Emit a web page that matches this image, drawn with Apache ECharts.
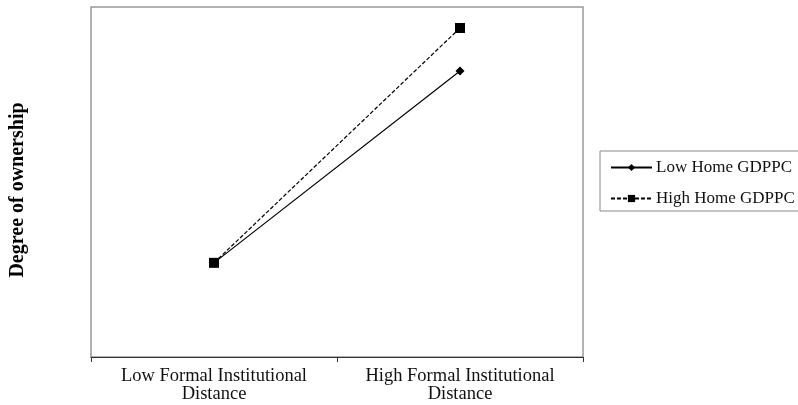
<!DOCTYPE html>
<html><head><meta charset="utf-8">
<script src="https://cdn.jsdelivr.net/npm/echarts@6/dist/echarts.min.js"></script>
<style>html,body{margin:0;padding:0;background:#fff}#c{width:798px;height:405px}</style>
</head><body><div id="c"></div>
<script>
const categories = ['Low Formal Institutional\nDistance', 'High Formal Institutional\nDistance'];
const lowHome = [2.69, 8.17];
const highHome = [2.69, 9.40];
const seriesNames = ['Low Home GDPPC', 'High Home GDPPC'];
const yName = 'Degree of ownership';

const chart = echarts.init(document.getElementById('c'));
const serif = '"Liberation Serif","Times New Roman",serif';
chart.setOption({
  animation: false,
  grid: {left: 91, top: 7, right: 215, bottom: 48, show: true, borderColor: '#999', borderWidth: 1.5,
         containLabel: false, outerBoundsMode: 'none'},
  xAxis: {
    type: 'category', data: categories, boundaryGap: true,
    axisLine: {lineStyle: {color: '#333', width: 1}},
    axisTick: {show: true, length: 5, interval: 0, lineStyle: {color: '#333'}},
    axisLabel: {fontFamily: serif, fontSize: 18.5, color: '#111', lineHeight: 18, margin: 10,
                interval: 0, hideOverlap: false}
  },
  yAxis: {
    type: 'value', min: 0, max: 10,
    name: yName, nameLocation: 'middle', nameGap: 63,
    nameTextStyle: {fontFamily: serif, fontSize: 20, fontWeight: 'bold', color: '#000', padding: [0, 16, 0, 0]},
    axisLine: {show: false}, axisTick: {show: false}, axisLabel: {show: false},
    splitLine: {show: false}
  },
  legend: {
    orient: 'vertical', left: 600, top: 151,
    data: seriesNames,
    itemWidth: 41, itemHeight: 9, itemGap: 14,
    padding: [8, 20, 4, 10],
    borderColor: '#888', borderWidth: 1,
    textStyle: {fontFamily: serif, fontSize: 17, color: '#111', padding: [0, 0, 0, -1]}
  },
  series: [
    {name: seriesNames[0], type: 'line', data: lowHome, symbol: 'diamond', symbolSize: 9,
     lineStyle: {color: '#000', width: 1.2, type: 'solid'}, itemStyle: {color: '#000'}},
    {name: seriesNames[1], type: 'line', data: highHome, symbol: 'rect', symbolSize: 10,
     lineStyle: {color: '#000', width: 1.2, type: [4, 2]}, itemStyle: {color: '#000'}}
  ]
});
</script></body></html>
